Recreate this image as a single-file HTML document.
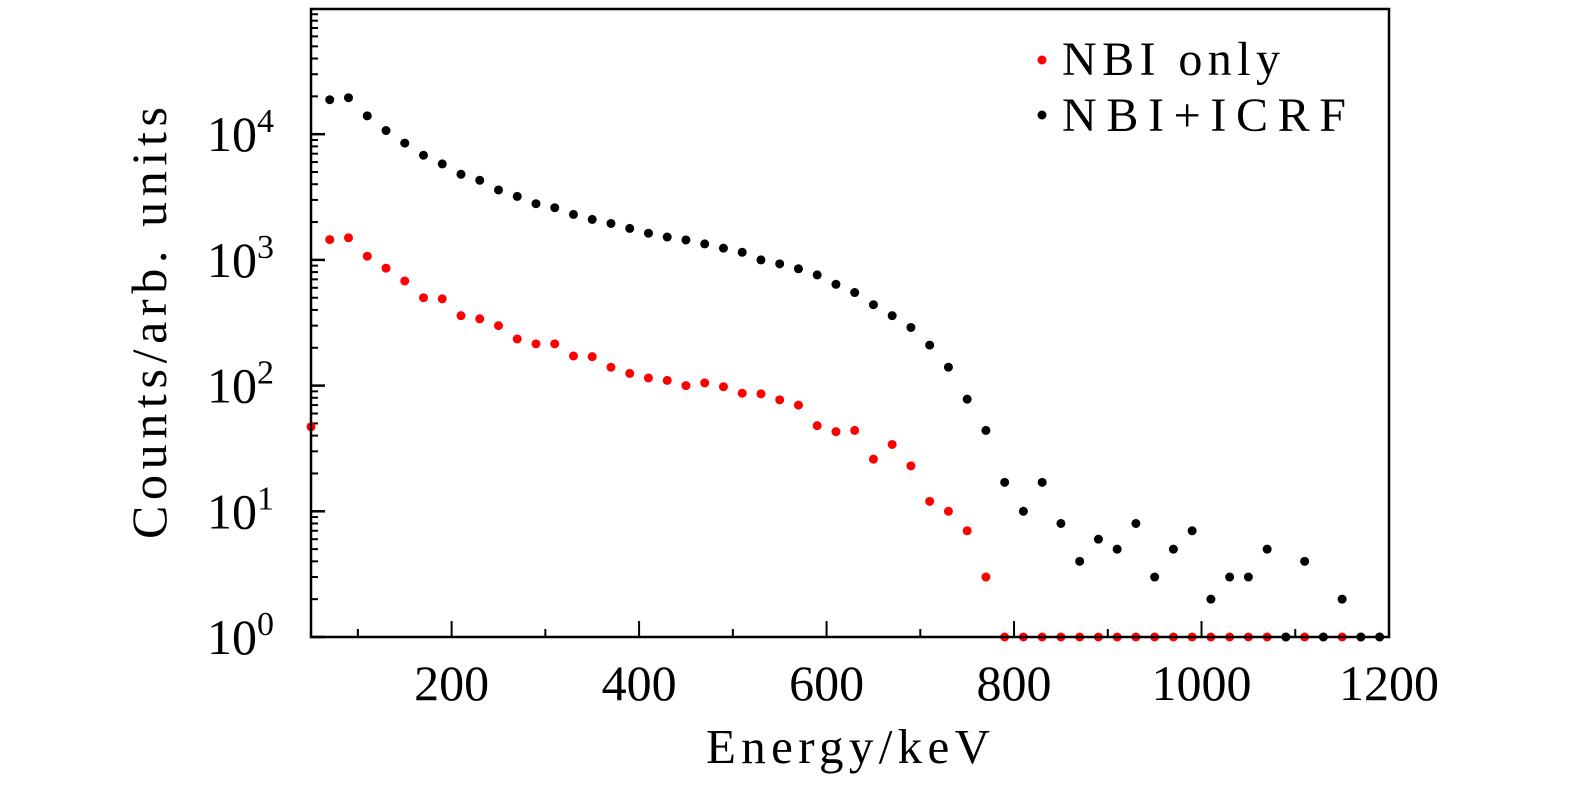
<!DOCTYPE html>
<html><head><meta charset="utf-8"><style>
body{margin:0;background:#fff;}
svg{display:block;font-family:"Liberation Serif",serif;}
</style></head><body>
<svg id="chart" width="1575" height="787">
<g id="ticks"></g>
<g id="pts"></g>
<rect x="311" y="9" width="1078" height="628" fill="none" stroke="#000" stroke-width="2.5"/>
<text x="0" y="0" transform="translate(166,323) rotate(-90)" text-anchor="middle" font-size="50" textLength="432" lengthAdjust="spacing">Counts/arb. units</text>
<text x="848" y="763" text-anchor="middle" font-size="49" textLength="284" lengthAdjust="spacing">Energy/keV</text>
<g>
<circle cx="1042" cy="60" r="4.5" fill="#f00"/>
<text x="1062" y="75" font-size="48" textLength="218" lengthAdjust="spacing">NBI only</text>
<circle cx="1042" cy="115" r="4.5" fill="#000"/>
<text x="1062" y="131" font-size="48" textLength="284" lengthAdjust="spacing">NBI+ICRF</text>
</g>
</svg>
<script>
const energies=[50,70,90,110,130,150,170,190,210,230,250,270,290,310,330,350,370,390,410,430,450,470,490,510,530,550,570,590,610,630,650,670,690,710,730,750,770,790,810,830,850,870,890,910,930,950,970,990,1010,1030,1050,1070,1090,1110,1130,1150,1170,1190];
const nbiOnly=[47,1450,1500,1070,860,680,500,490,360,340,300,235,215,215,172,170,140,125,115,110,100,105,98,87,86,77,70,48,43,44,26,34,23,12,10,7,3,1,1,1,1,1,1,1,1,1,1,1,1,1,1,1,1,1,1,1,1,1];
const nbiIcrf=[null,18800,19500,14000,10700,8500,6800,5800,4800,4300,3600,3200,2800,2600,2300,2100,1950,1780,1630,1520,1440,1340,1240,1150,1000,930,850,760,640,550,440,360,290,210,140,78,44,17,10,17,8,4,6,5,8,3,5,7,2,3,3,5,1,4,1,2,1,1];
const xTicks=[200,400,600,800,1000,1200];
const yDecades=[0,1,2,3,4];
const NS="http://www.w3.org/2000/svg";
const X=v=>311+(v-50)*(1078/1150);
const Y=v=>637-Math.log10(v)*125.7;
const tg=document.getElementById('ticks'),pg=document.getElementById('pts');
function line(x1,y1,x2,y2,w,name){const l=document.createElementNS(NS,'line');l.setAttribute('x1',x1);l.setAttribute('y1',y1);l.setAttribute('x2',x2);l.setAttribute('y2',y2);l.setAttribute('stroke','#000');l.setAttribute('stroke-width',w);


tg.appendChild(l);}
for(let v=100;v<=1100;v+=100){const major=v%200===0;line(X(v),637,X(v),637-(major?16:8),2,'x-tick');}
xTicks.forEach(v=>{const t=document.createElementNS(NS,'text');t.setAttribute('x',X(v));t.setAttribute('y',700);t.setAttribute('text-anchor','middle');t.setAttribute('font-size','50');t.textContent=v;


tg.appendChild(t);});
for(let d=0;d<5;d++){line(311,Y(Math.pow(10,d)),311+14,Y(Math.pow(10,d)),2.5,'y-major-tick');for(let m=2;m<=9;m++)line(311,Y(m*Math.pow(10,d)),311+7,Y(m*Math.pow(10,d)),2,'y-minor-tick');}
yDecades.forEach(d=>{const t=document.createElementNS(NS,'text');t.setAttribute('x',274);t.setAttribute('y',Y(Math.pow(10,d))+17);t.setAttribute('text-anchor','end');t.setAttribute('font-size','50');t.innerHTML='10<tspan dy="-19" font-size="34">'+d+'</tspan>';


tg.appendChild(t);});
function dots(arr,color,name){arr.forEach((v,i)=>{if(v==null)return;const c=document.createElementNS(NS,'circle');c.setAttribute('cx',X(energies[i]));c.setAttribute('cy',Y(v));c.setAttribute('r',4.5);c.setAttribute('fill',color);


pg.appendChild(c);});}
dots(nbiOnly,'#f00','point-nbi-only');
dots(nbiIcrf,'#000','point-nbi-icrf');
</script>
</body></html>
